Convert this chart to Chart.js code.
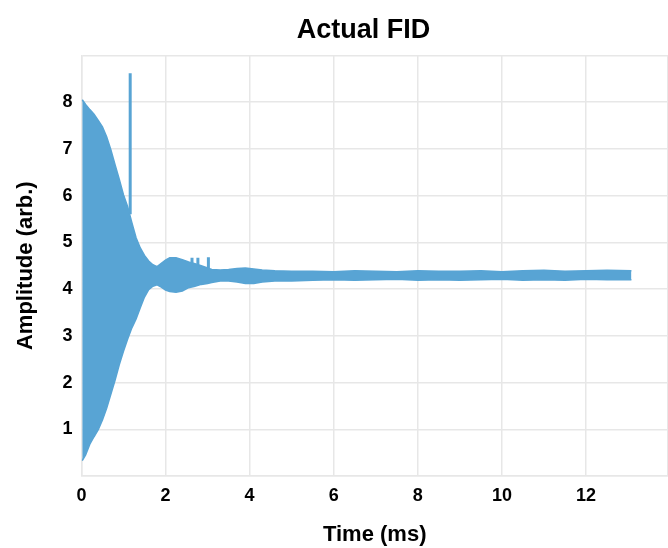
<!DOCTYPE html>
<html>
<head>
<meta charset="utf-8">
<script src="https://cdn.jsdelivr.net/npm/chart.js@4"></script>
<style>
  html, body { margin: 0; padding: 0; background: #fff; overflow: hidden; }
  #wrap { width: 668px; height: 548px; }
</style>
</head>
<body>
<div id="wrap"><canvas id="fid"></canvas></div>
<script>
// envelope of the FID trace (time in ms, amplitude arb.)
const times = [0.02, 0.1, 0.2, 0.3, 0.4, 0.5, 0.6, 0.7, 0.8, 0.9, 1.0, 1.1, 1.2, 1.3, 1.4, 1.5, 1.6, 1.7, 1.8, 1.9,
  2.0, 2.1, 2.25, 2.4, 2.55, 2.7, 2.85, 3.0, 3.1,
  3.3, 3.5, 3.7, 3.9, 4.1, 4.3, 4.6, 5.0,
  5.5, 6.0, 6.5, 7.0, 7.5, 8.0, 8.5, 9.0, 9.5, 10.0, 10.5, 11.0, 11.5, 12.0, 12.5, 13.08];
const upperAmp = [8.05, 7.95, 7.84, 7.74, 7.61, 7.47, 7.26, 6.98, 6.66, 6.35, 6.02, 5.76, 5.42, 5.1, 4.88, 4.72, 4.6, 4.52, 4.48, 4.55,
  4.62, 4.67, 4.67, 4.63, 4.58, 4.54, 4.5, 4.45, 4.42,
  4.41, 4.42, 4.44, 4.45, 4.43, 4.41, 4.39, 4.38,
  4.38, 4.37, 4.39, 4.38, 4.37, 4.39, 4.38, 4.38, 4.39, 4.37, 4.39, 4.4, 4.38, 4.39, 4.4, 4.39];
const lowerAmp = [0.33, 0.45, 0.68, 0.84, 0.99, 1.2, 1.45, 1.75, 2.05, 2.38, 2.67, 2.93, 3.17, 3.36, 3.6, 3.83, 3.99, 4.06, 4.09, 4.04,
  3.98, 3.95, 3.93, 3.96, 4.03, 4.06, 4.1, 4.12, 4.14,
  4.17, 4.17, 4.15, 4.12, 4.12, 4.15, 4.17, 4.17,
  4.19, 4.2, 4.19, 4.2, 4.21, 4.19, 4.2, 4.19, 4.2, 4.21, 4.19, 4.2, 4.19, 4.21, 4.2, 4.2];

// narrow glitches sticking out of the trace
const spikeTimes = [1.16, 2.63, 2.77, 3.02];
const spikeBase = [5.6, 4.5, 4.5, 4.45];
const spikeTop = [8.62, 4.67, 4.67, 4.68];

const xTickLabels = [0, 2, 4, 6, 8, 10, 12];
const yTickLabels = [1, 2, 3, 4, 5, 6, 7, 8];

const blue = '#58a4d4';
const gridColor = '#e7e7e7';
const fontFamily = "'Liberation Sans', Arial, Helvetica, sans-serif";

const upperData = times.map((t, i) => ({ x: t, y: upperAmp[i] }));
const lowerData = times.map((t, i) => ({ x: t, y: lowerAmp[i] }));
const spikeData = [];
spikeTimes.forEach((t, i) => {
  spikeData.push({ x: t, y: spikeBase[i] });
  spikeData.push({ x: t, y: spikeTop[i] });
  spikeData.push({ x: t, y: null }); // break between spikes
});

const ctx = document.getElementById('fid').getContext('2d');
new Chart(ctx, {
  type: 'line',
  data: {
    datasets: [
      {
        label: 'upper',
        data: upperData,
        borderColor: blue,
        backgroundColor: blue,
        borderWidth: 1.5,
        pointRadius: 0,
        fill: '+1',
      },
      {
        label: 'lower',
        data: lowerData,
        borderColor: blue,
        borderWidth: 1.5,
        pointRadius: 0,
        fill: false,
      },
      {
        label: 'spikes',
        data: spikeData,
        borderColor: blue,
        borderWidth: 3,
        pointRadius: 0,
        spanGaps: false,
        fill: false,
      },
    ],
  },
  options: {
    responsive: true,
    maintainAspectRatio: false,
    animation: false,
    layout: { padding: 0 },
    plugins: {
      legend: { display: false },
      tooltip: { enabled: false },
      title: {
        display: true,
        // trailing spaces nudge the centred title a little to the left, as in the original
        text: 'Actual FID\u00a0\u00a0\u00a0',
        fullSize: false,
        color: '#000',
        font: { family: fontFamily, size: 27, weight: 'bold' },
        padding: { top: 14, bottom: 9 },
      },
    },
    scales: {
      x: {
        type: 'linear',
        min: 0,
        max: 13.95,
        grid: { color: gridColor, lineWidth: 1.5, drawTicks: true, tickLength: 9, tickColor: 'rgba(0,0,0,0)' },
        border: { color: gridColor, width: 1.5 },
        ticks: {
          stepSize: 2,
          padding: 0,
          color: '#000',
          maxRotation: 0,
          font: { family: fontFamily, size: 18, weight: 'bold' },
          callback: (v) => (xTickLabels.includes(v) ? String(v) : ''),
        },
        title: {
          display: true,
          text: 'Time (ms)',
          color: '#000',
          font: { family: fontFamily, size: 22, weight: 'bold' },
          padding: { top: 15, bottom: 0 },
        },
      },
      y: {
        type: 'linear',
        min: 0,
        max: 9,
        grid: { color: gridColor, lineWidth: 1.5, drawTicks: false },
        border: { color: gridColor, width: 1.5 },
        ticks: {
          stepSize: 1,
          padding: 9,
          color: '#000',
          font: { family: fontFamily, size: 18, weight: 'bold' },
          callback: (v) => (yTickLabels.includes(v) ? String(v) : ''),
        },
        title: {
          display: true,
          text: 'Amplitude (arb.)',
          color: '#000',
          font: { family: fontFamily, size: 22, weight: 'bold' },
          padding: { top: 13, bottom: 14 },
        },
      },
    },
  },
});
</script>
</body>
</html>
